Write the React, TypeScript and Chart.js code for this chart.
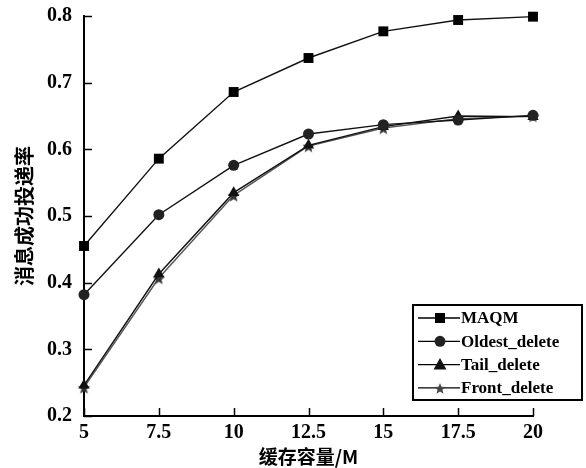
import React, { useEffect, useRef } from "react";
import { Chart, registerables } from "chart.js";
Chart.register(...registerables);

const capacities = [5, 7.5, 10, 12.5, 15, 17.5, 20];
const maqm = [0.455, 0.586, 0.686, 0.737, 0.777, 0.794, 0.799];
const oldestDelete = [0.382, 0.502, 0.576, 0.623, 0.637, 0.644, 0.651];
const tailDelete = [0.246, 0.413, 0.535, 0.606, 0.634, 0.650, 0.649];
const frontDelete = [0.243, 0.407, 0.531, 0.605, 0.632, 0.646, 0.650];
const seriesNames = ["MAQM", "Oldest_delete", "Tail_delete", "Front_delete"];
const xTitle = "缓存容量/M";
const yTitle = "消息成功投递率";

const FONT = "'Liberation Serif', 'DejaVu Serif', serif";
const CJK = "'Noto Sans CJK SC', sans-serif";

function starPath(ctx: CanvasRenderingContext2D, cx: number, cy: number, r: number) {
  ctx.beginPath();
  for (let i = 0; i < 10; i++) {
    const a = -Math.PI / 2 + (i * Math.PI) / 5;
    const rad = i % 2 ? r * 0.42 : r;
    const px = cx + rad * Math.cos(a);
    const py = cy + rad * Math.sin(a);
    if (i === 0) ctx.moveTo(px, py);
    else ctx.lineTo(px, py);
  }
  ctx.closePath();
}

function makeStar(r: number, color: string) {
  const c = document.createElement("canvas");
  const s = Math.ceil(r * 2 + 2);
  c.width = s;
  c.height = s;
  const g = c.getContext("2d")!;
  g.fillStyle = color;
  starPath(g, s / 2, s / 2 + 1, r);
  g.fill();
  return c;
}

function drawMarker(ctx: CanvasRenderingContext2D, kind: string, x: number, y: number, color: string) {
  ctx.fillStyle = color;
  if (kind === "rect") {
    ctx.fillRect(x - 5, y - 5, 10, 10);
  } else if (kind === "circle") {
    ctx.beginPath();
    ctx.arc(x, y, 5.5, 0, Math.PI * 2);
    ctx.fill();
  } else if (kind === "triangle") {
    ctx.beginPath();
    ctx.moveTo(x, y - 6.5);
    ctx.lineTo(x + 6.5, y + 5);
    ctx.lineTo(x - 6.5, y + 5);
    ctx.closePath();
    ctx.fill();
  } else {
    starPath(ctx, x, y + 1, 6);
    ctx.fill();
  }
}

export default function App() {
  const ref = useRef<HTMLCanvasElement>(null);
  useEffect(() => {
    const star = makeStar(6.5, "#333");
    const kinds = ["rect", "circle", "triangle", "star"];
    const colors = ["#000", "#222", "#111", "#444"];
    const all = [maqm, oldestDelete, tailDelete, frontDelete];
    const styles: any[] = ["rect", "circle", "triangle", star];
    const radii = [7, 5.5, 6.5, 6.5];

    const innerTicks = {
      id: "innerTicks",
      afterDatasetsDraw(chart: any) {
        const { ctx, scales, chartArea } = chart;
        ctx.save();
        ctx.strokeStyle = "#000";
        ctx.lineWidth = 1.5;
        scales.x.ticks.forEach((_t: any, i: number) => {
          const px = Math.round(scales.x.getPixelForTick(i)) + 0.5;
          ctx.beginPath();
          ctx.moveTo(px, chartArea.bottom);
          ctx.lineTo(px, chartArea.bottom - 8);
          ctx.stroke();
        });
        scales.y.ticks.forEach((_t: any, i: number) => {
          const py = Math.round(scales.y.getPixelForTick(i)) + 0.5;
          ctx.beginPath();
          ctx.moveTo(chartArea.left, py);
          ctx.lineTo(chartArea.left + 8, py);
          ctx.stroke();
        });
        ctx.restore();
      },
      afterDraw(chart: any) {
        const { ctx } = chart;
        const bx = 413, by = 305, bw = 169, bh = 95;
        ctx.save();
        ctx.fillStyle = "#fff";
        ctx.fillRect(bx, by, bw, bh);
        ctx.strokeStyle = "#000";
        ctx.lineWidth = 2;
        ctx.strokeRect(bx, by, bw, bh);
        ctx.font = `bold 17px ${FONT}`;
        ctx.textBaseline = "middle";
        seriesNames.forEach((name, i) => {
          const y = by + 13 + i * 23.3;
          ctx.strokeStyle = "#000";
          ctx.lineWidth = 1.3;
          ctx.beginPath();
          ctx.moveTo(bx + 5, y);
          ctx.lineTo(bx + 47, y);
          ctx.stroke();
          drawMarker(ctx, kinds[i], bx + 27, y, colors[i]);
          ctx.fillStyle = "#000";
          ctx.fillText(name, bx + 48, y + 1);
        });
        ctx.restore();
      },
    };

    const chart = new Chart(ref.current!, {
      type: "line",
      data: {
        datasets: all.map((vals, i) => ({
          label: seriesNames[i],
          data: capacities.map((c, j) => ({ x: c, y: vals[j] })),
          borderColor: i === 3 ? "#555" : "#111",
          borderWidth: 1.4,
          pointStyle: styles[i],
          pointRadius: radii[i],
          pointBackgroundColor: colors[i],
          pointBorderColor: colors[i],
          pointBorderWidth: 0,
          tension: 0,
          clip: false,
        })),
      },
      plugins: [innerTicks],
      options: {
        animation: false,
        responsive: false,
        layout: { padding: { left: 12, right: 53, top: 16, bottom: 0 } },
        plugins: { legend: { display: false }, tooltip: { enabled: false } },
        scales: {
          x: {
            type: "linear",
            min: 5,
            max: 20,
            ticks: {
              stepSize: 2.5,
              color: "#000",
              font: { family: FONT, size: 20, weight: "bold" },
              padding: 5,
              maxRotation: 0,
              callback: (v: any) => String(v),
            },
            grid: { drawOnChartArea: false, drawTicks: false },
            border: { display: true, color: "#000", width: 2 },
            title: {
              display: true,
              text: xTitle,
              color: "#000",
              font: { family: CJK, size: 19, weight: "bold" },
              padding: { top: 3, bottom: 0 },
            },
            afterFit: (s: any) => {
              s.height = 52;
            },
          },
          y: {
            min: 0.2,
            max: 0.8,
            ticks: {
              stepSize: 0.1,
              color: "#000",
              font: { family: FONT, size: 20, weight: "bold" },
              padding: 12,
              callback: (v: any) => Number(v).toFixed(1),
            },
            grid: { drawOnChartArea: false, drawTicks: false },
            border: { display: true, color: "#000", width: 2 },
            title: {
              display: true,
              text: yTitle,
              color: "#000",
              font: { family: CJK, size: 20, weight: "bold" },
              padding: { top: 0, bottom: 0 },
            },
            afterFit: (s: any) => {
              s.width = 72;
              s.paddingTop = 0;
              s.paddingBottom = 0;
            },
          },
        },
      },
    });
    return () => chart.destroy();
  }, []);
  return (
    <div style={{ position: "fixed", left: 0, top: 0, width: 586, height: 468, background: "#fff" }}>
      <canvas ref={ref} width={586} height={468} style={{ width: 586, height: 468 }} />
    </div>
  );
}
